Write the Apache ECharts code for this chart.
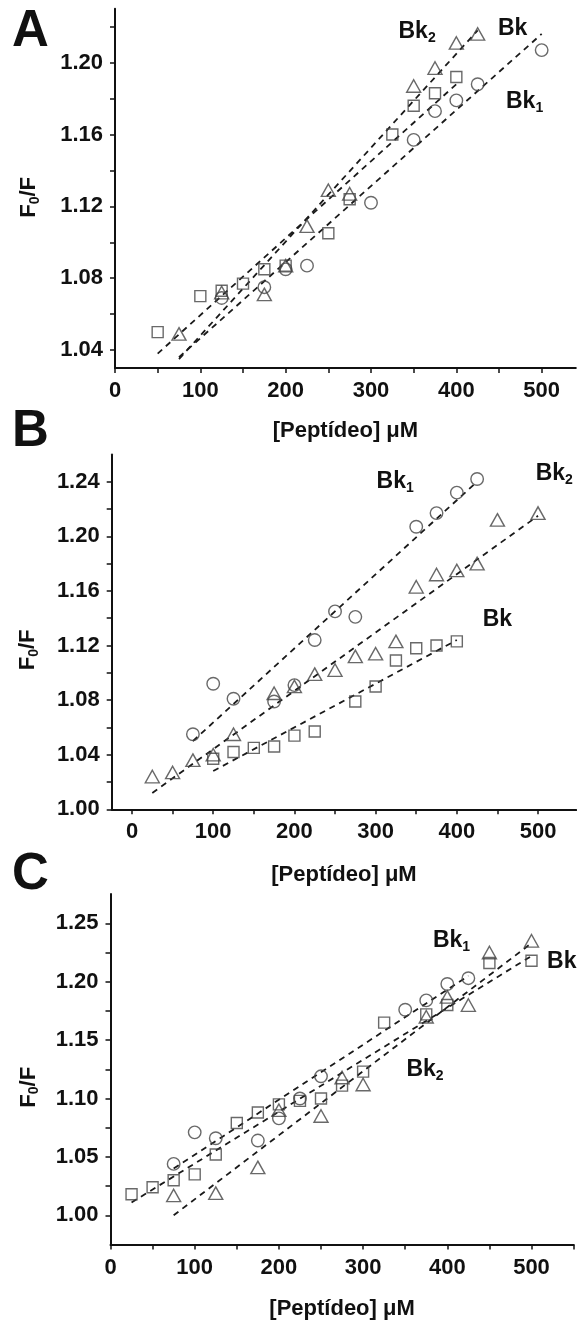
<!DOCTYPE html>
<html>
<head>
<meta charset="utf-8">
<style>
  html, body { margin: 0; padding: 0; background: #fff; }
  #chart { width: 577px; height: 1321px; }
</style>
<script src="https://cdn.jsdelivr.net/npm/echarts@6/dist/echarts.min.js"></script>
</head>
<body>
<div id="chart"></div>
<script>
// ---------- Panel A ----------
const aSquareX = [50, 100, 125, 150, 175, 200, 250, 275, 325, 350, 375, 400];
const aSquareY = [1.050, 1.070, 1.073, 1.077, 1.085, 1.087, 1.105, 1.124, 1.160, 1.176, 1.183, 1.192];
const aCircleX = [125, 175, 200, 225, 300, 350, 375, 400, 425, 500];
const aCircleY = [1.069, 1.075, 1.085, 1.087, 1.122, 1.157, 1.173, 1.179, 1.188, 1.207];
const aTriangleX = [75, 125, 175, 200, 225, 250, 275, 350, 375, 400, 425];
const aTriangleY = [1.049, 1.072, 1.071, 1.087, 1.109, 1.129, 1.127, 1.187, 1.197, 1.211, 1.216];
// fitted lines: [x0, x1], [y0, y1]
const aFitBkX = [50, 400],  aFitBkY = [1.038, 1.188];
const aFitBk1X = [75, 500], aFitBk1Y = [1.036, 1.216];
const aFitBk2X = [75, 425], aFitBk2Y = [1.035, 1.218];
const aTagX = [354, 466, 480];
const aTagY = [1.2171, 1.2188, 1.1781];
const aTagSub = ['2', '', '1'];
const aYTicks = [1.04, 1.06, 1.08, 1.10, 1.12, 1.14, 1.16, 1.18, 1.20, 1.22];
const aYLabels = [1.04, 1.08, 1.12, 1.16, 1.20];

// ---------- Panel B ----------
const bSquareX = [100, 125, 150, 175, 200, 225, 275, 300, 325, 350, 375, 400];
const bSquareY = [1.037, 1.042, 1.045, 1.046, 1.054, 1.057, 1.079, 1.090, 1.109, 1.118, 1.120, 1.123];
const bCircleX = [75, 100, 125, 175, 200, 225, 250, 275, 350, 375, 400, 425];
const bCircleY = [1.055, 1.092, 1.081, 1.079, 1.091, 1.124, 1.145, 1.141, 1.207, 1.217, 1.232, 1.242];
const bTriangleX = [25, 50, 75, 100, 125, 175, 200, 225, 250, 275, 300, 325, 350, 375, 400, 425, 450, 500];
const bTriangleY = [1.024, 1.027, 1.036, 1.040, 1.055, 1.085, 1.090, 1.099, 1.102, 1.112, 1.114, 1.123, 1.163, 1.172, 1.175, 1.180, 1.212, 1.217];
const bFitBkX = [100, 400], bFitBkY = [1.028, 1.124];
const bFitBk1X = [75, 425], bFitBk1Y = [1.050, 1.240];
const bFitBk2X = [25, 500], bFitBk2Y = [1.012, 1.215];
const bTagX = [324, 520, 450];
const bTagY = [1.2398, 1.2456, 1.1387];
const bTagSub = ['1', '2', ''];
const bYTicks = [1.00, 1.02, 1.04, 1.06, 1.08, 1.10, 1.12, 1.14, 1.16, 1.18, 1.20, 1.22, 1.24];
const bYLabels = [1.00, 1.04, 1.08, 1.12, 1.16, 1.20, 1.24];

// ---------- Panel C ----------
const cSquareX = [25, 50, 75, 100, 125, 150, 175, 200, 225, 250, 275, 300, 325, 375, 400, 450, 500];
const cSquareY = [1.018, 1.024, 1.030, 1.035, 1.052, 1.079, 1.088, 1.095, 1.098, 1.100, 1.111, 1.123, 1.165, 1.172, 1.180, 1.216, 1.218];
const cCircleX = [75, 100, 125, 175, 200, 225, 250, 350, 375, 400, 425];
const cCircleY = [1.044, 1.071, 1.066, 1.064, 1.083, 1.100, 1.119, 1.176, 1.184, 1.198, 1.203];
const cTriangleX = [75, 125, 175, 200, 250, 275, 300, 375, 400, 425, 450, 500];
const cTriangleY = [1.017, 1.019, 1.041, 1.090, 1.085, 1.118, 1.112, 1.170, 1.187, 1.180, 1.225, 1.235];
const cFitBkX = [25, 500], cFitBkY = [1.011, 1.222];
const cFitBk1X = [75, 425], cFitBk1Y = [1.040, 1.205];
const cFitBk2X = [75, 500], cFitBk2Y = [1.000, 1.233];
const cTagX = [405, 536, 373.5];
const cTagY = [1.2348, 1.2169, 1.1244];
const cTagSub = ['1', '', '2'];
const cYTicks = [1.000, 1.025, 1.050, 1.075, 1.100, 1.125, 1.150, 1.175, 1.200, 1.225, 1.250];
const cYLabels = [1.00, 1.05, 1.10, 1.15, 1.20, 1.25];

// shared x ticks
const xTicks = [0, 50, 100, 150, 200, 250, 300, 350, 400, 450, 500];
const xTicksC = [0, 50, 100, 150, 200, 250, 300, 350, 400, 450, 500, 550];
const xLabels = [0, 100, 200, 300, 400, 500];

const FONT = '"Liberation Sans", Arial, Helvetica, sans-serif';
const INK = '#111111';
const MARK = '#444444';

function pairs(xs, ys) { return xs.map((x, i) => [x, ys[i]]); }

const panels = [
  { grid: { left: 115, top: 8.8, width: 460.8, height: 359.2 },
    xMin: 0, xMax: 540, xTicks: xTicks,
    yMin: 1.03, yMax: 1.23, yTicks: aYTicks, yLabels: aYLabels, yDigits: 2,
    sq: [aSquareX, aSquareY], ci: [aCircleX, aCircleY], tr: [aTriangleX, aTriangleY],
    fits: [[aFitBkX, aFitBkY], [aFitBk1X, aFitBk1Y], [aFitBk2X, aFitBk2Y]],
    tags: [aTagX, aTagY, aTagSub], nameGapX: 52, nameGapY: 73, namePad: 18 },
  { grid: { left: 111.7, top: 454.4, width: 464.5, height: 354.9 },
    xMin: -25, xMax: 547, xTicks: xTicks,
    yMin: 1.00, yMax: 1.26, yTicks: bYTicks, yLabels: bYLabels, yDigits: 2,
    sq: [bSquareX, bSquareY], ci: [bCircleX, bCircleY], tr: [bTriangleX, bTriangleY],
    fits: [[bFitBkX, bFitBkY], [bFitBk1X, bFitBk1Y], [bFitBk2X, bFitBk2Y]],
    tags: [bTagX, bTagY, bTagSub], nameGapX: 55, nameGapY: 71, namePad: 36 },
  { grid: { left: 110.5, top: 894.1, width: 463.1, height: 350.4 },
    xMin: 0, xMax: 550, xTicks: xTicksC,
    yMin: 0.975, yMax: 1.275, yTicks: cYTicks, yLabels: cYLabels, yDigits: 2,
    sq: [cSquareX, cSquareY], ci: [cCircleX, cCircleY], tr: [cTriangleX, cTriangleY],
    fits: [[cFitBkX, cFitBkY], [cFitBk1X, cFitBk1Y], [cFitBk2X, cFitBk2Y]],
    tags: [cTagX, cTagY, cTagSub], nameGapX: 53, nameGapY: 69, namePad: 36 }
];

const axisLineStyle = { color: INK, width: 2 };
const labelStyle = { color: INK, fontFamily: FONT, fontWeight: 'bold', fontSize: 22 };
const richName = {
  m: { fontFamily: FONT, fontWeight: 'bold', fontSize: 22, color: INK, lineHeight: 26 },
  s: { fontFamily: FONT, fontWeight: 'bold', fontSize: 14, color: INK, verticalAlign: 'bottom', lineHeight: 14 }
};
const richTag = {
  m: { fontFamily: FONT, fontWeight: 'bold', fontSize: 23, color: INK, lineHeight: 26,
       textBorderWidth: 0, opacity: 1 },
  s: { fontFamily: FONT, fontWeight: 'bold', fontSize: 14, color: INK, verticalAlign: 'bottom', lineHeight: 14,
       textBorderWidth: 0, opacity: 1 }
};

const grids = [], xAxes = [], yAxes = [], series = [];

panels.forEach((p, i) => {
  grids.push(Object.assign({ outerBoundsMode: 'none', containLabel: false }, p.grid));
  xAxes.push({
    type: 'value', gridIndex: i, min: p.xMin, max: p.xMax,
    splitLine: { show: false },
    axisLine: { onZero: false, lineStyle: axisLineStyle },
    axisTick: { show: true, inside: false, length: 5, lineStyle: { color: INK, width: 1.5 }, customValues: p.xTicks },
    axisLabel: Object.assign({ margin: 12, customValues: xLabels, formatter: v => String(v) }, labelStyle),
    name: '[Peptídeo] μM', nameLocation: 'middle', nameGap: p.nameGapX,
    nameTextStyle: { color: INK, fontFamily: FONT, fontWeight: 'bold', fontSize: 22 }
  });
  yAxes.push({
    type: 'value', gridIndex: i, min: p.yMin, max: p.yMax,
    splitLine: { show: false },
    axisLine: { onZero: false, lineStyle: axisLineStyle },
    axisTick: { show: true, inside: false, length: 5, lineStyle: { color: INK, width: 1.5 }, customValues: p.yTicks },
    axisLabel: Object.assign({ margin: 12, customValues: p.yLabels, formatter: v => v.toFixed(p.yDigits) }, labelStyle),
    name: '{m|F}{s|0}{m|/F}', nameLocation: 'middle', nameGap: p.nameGapY, nameRotate: 90,
    nameTextStyle: { rich: richName, padding: [0, p.namePad, 0, 0] }
  });

  const markerBase = {
    type: 'scatter', xAxisIndex: i, yAxisIndex: i, silent: true, z: 3,
    itemStyle: { color: 'rgba(0,0,0,0)', borderColor: MARK, borderWidth: 1.4 }
  };
  series.push(Object.assign({}, markerBase, { symbol: 'rect', symbolSize: 11, data: pairs(p.sq[0], p.sq[1]) }));
  series.push(Object.assign({}, markerBase, { symbol: 'circle', symbolSize: 12.5, data: pairs(p.ci[0], p.ci[1]) }));
  series.push(Object.assign({}, markerBase, { symbol: 'triangle', symbolSize: [14, 12.5], data: pairs(p.tr[0], p.tr[1]) }));

  p.fits.forEach(f => {
    series.push({
      type: 'line', xAxisIndex: i, yAxisIndex: i, silent: true, z: 2,
      symbol: 'none', data: pairs(f[0], f[1]),
      lineStyle: { color: '#1a1a1a', width: 1.8, type: [6, 5] }
    });
  });

  // curve names, placed in data space next to their points
  const tagData = p.tags[0].map((x, k) => ({
    value: [x, p.tags[1][k]],
    label: { formatter: p.tags[2][k] ? '{m|Bk}{s|' + p.tags[2][k] + '}' : '{m|Bk}' }
  }));
  series.push({
    type: 'scatter', xAxisIndex: i, yAxisIndex: i, silent: true, z: 4,
    symbolSize: 1, itemStyle: { color: 'rgba(0,0,0,0)' },
    label: { show: true, position: 'inside', color: INK, textBorderWidth: 0, opacity: 1, rich: richTag },
    data: tagData
  });
});

const chart = echarts.init(document.getElementById('chart'), null, { renderer: 'canvas' });
chart.setOption({
  backgroundColor: '#fff',
  animation: false,
  grid: grids,
  xAxis: xAxes,
  yAxis: yAxes,
  series: series,
  graphic: [
    { type: 'text', left: 12, top: 6, style: { text: 'A', font: 'bold 51px ' + FONT, fill: '#111' } },
    { type: 'text', left: 12, top: 406, style: { text: 'B', font: 'bold 51px ' + FONT, fill: '#111' } },
    { type: 'text', left: 12, top: 849, style: { text: 'C', font: 'bold 51px ' + FONT, fill: '#111' } }
  ]
});
</script>
</body>
</html>
